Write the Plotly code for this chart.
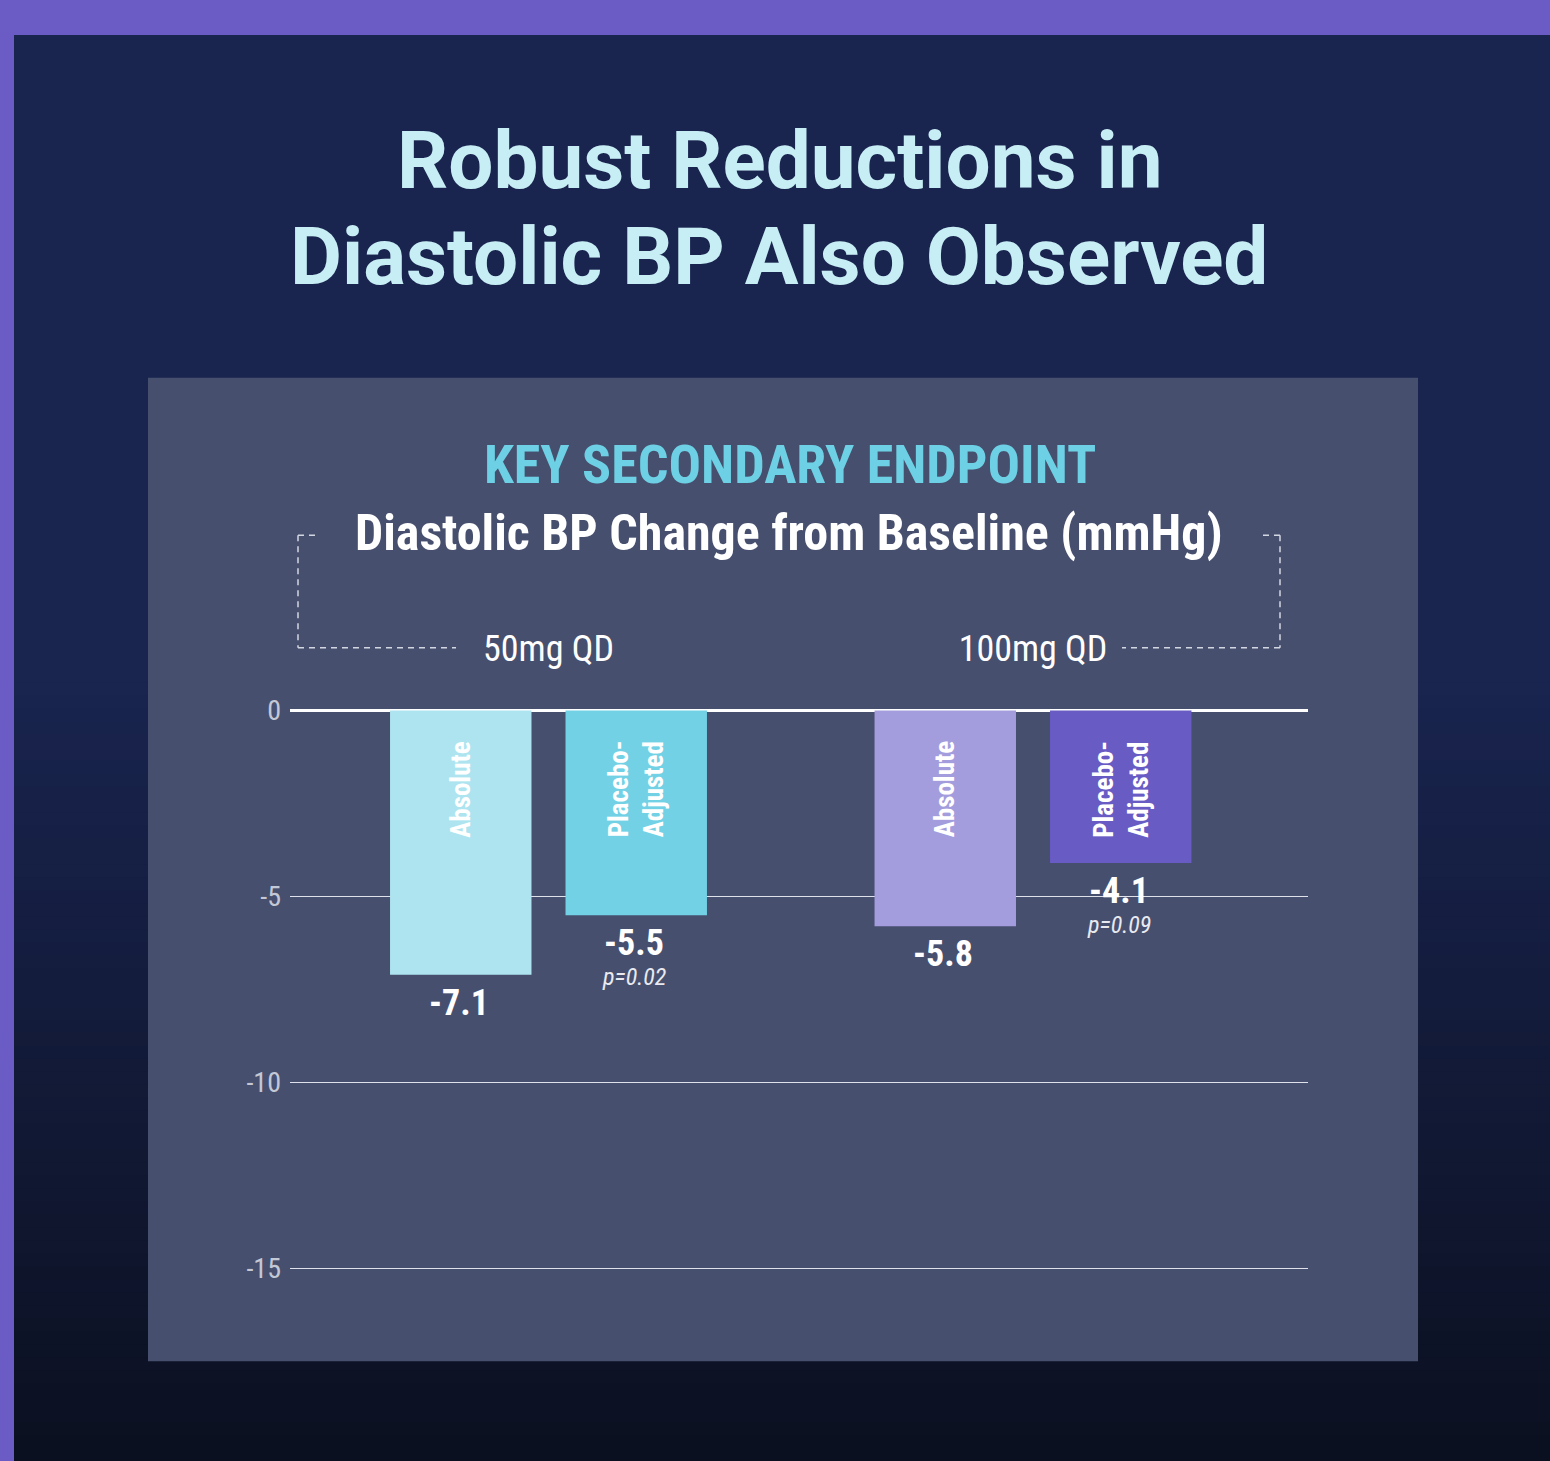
import plotly.graph_objects as go

# ---------------- data ----------------
groups = ["50mg QD", "100mg QD"]
absolute = [-7.1, -5.8]
placebo_adjusted = [-5.5, -4.1]
p_values = ["p=0.02", "p=0.09"]
absolute_colors = ["#ade4f0", "#a39ddd"]
placebo_colors = ["#72d1e5", "#685bc4"]
y_ticks = [0, -5, -10, -15]
y_tick_labels = ["0", "-5", "-10", "-15"]

# ---------------- layout helpers ----------------
W, H = 1550, 1461
def px(x):
    return x / W
def py(y):
    return 1 - y / H

COND = "Roboto Condensed, Liberation Sans Narrow, DejaVu Sans Condensed, Roboto, sans-serif"
ROBOTO = "Roboto, sans-serif"

fig = go.Figure()

fig.add_trace(go.Bar(
    x=groups, y=absolute, name="Absolute",
    marker=dict(color=absolute_colors, line=dict(width=0)),
    offsetgroup="a", hoverinfo="skip",
))
fig.add_trace(go.Bar(
    x=groups, y=placebo_adjusted, name="Placebo-Adjusted",
    marker=dict(color=placebo_colors, line=dict(width=0)),
    offsetgroup="b", hoverinfo="skip",
))

shapes = []
# background gradient (lower part)
top_c = (25, 36, 79)
bot_c = (11, 16, 32)
y0g, y1g = 680, 1461
n = 60
for i in range(n):
    t = (i + 0.5) / n
    c = tuple(round(top_c[k] + (bot_c[k] - top_c[k]) * t) for k in range(3))
    ya = y0g + (y1g - y0g) * i / n
    yb = y0g + (y1g - y0g) * (i + 1) / n + 1
    shapes.append(dict(type="rect", xref="paper", yref="paper", layer="below",
                       x0=0, x1=1, y0=py(yb), y1=py(ya),
                       fillcolor="rgb(%d,%d,%d)" % c, line=dict(width=0)))
# purple border
shapes.append(dict(type="rect", xref="paper", yref="paper", layer="below",
                   x0=-0.01, x1=1.01, y0=py(30), y1=1.02, fillcolor="#6a5bc5", line=dict(width=0)))
shapes.append(dict(type="rect", xref="paper", yref="paper", layer="below",
                   x0=-0.01, x1=px(14), y0=-0.01, y1=1.02, fillcolor="#6a5bc5", line=dict(width=0)))
# panel
shapes.append(dict(type="rect", xref="paper", yref="paper", layer="below",
                   x0=px(148), x1=px(1418), y0=py(1361), y1=py(374),
                   fillcolor="#474f6e", line=dict(width=0)))
# dashed brackets
dash_line = dict(color="#d3d7e2", width=1.5, dash="6px,5px")
def seg(xa, ya, xb, yb):
    shapes.append(dict(type="line", xref="paper", yref="paper", layer="above",
                       x0=px(xa), y0=py(ya), x1=px(xb), y1=py(yb), line=dash_line))
seg(298, 532, 316, 532)
seg(298, 532, 298, 645)
seg(298, 645, 456, 645)
seg(1263, 532, 1280, 532)
seg(1280, 532, 1280, 645)
seg(1280, 645, 1122, 645)

annotations = []
# titles
annotations.append(dict(text="<b>Robust Reductions in</b>", x=px(779), y=py(157),
                        xref="paper", yref="paper", showarrow=False, yanchor="middle",
                        font=dict(family=ROBOTO, size=80, color="#c8eef5")))
annotations.append(dict(text="<b>Diastolic BP Also Observed</b>", x=px(779), y=py(253),
                        xref="paper", yref="paper", showarrow=False, yanchor="middle",
                        font=dict(family=ROBOTO, size=80, color="#c8eef5")))
annotations.append(dict(text="<b>KEY SECONDARY ENDPOINT</b>", x=px(790), y=py(461),
                        xref="paper", yref="paper", showarrow=False, yanchor="middle",
                        font=dict(family=COND, size=54, color="#6dd0e4")))
annotations.append(dict(text="<b>Diastolic BP Change from Baseline (mmHg)</b>", x=px(789), y=py(530),
                        xref="paper", yref="paper", showarrow=False, yanchor="middle",
                        font=dict(family=COND, size=50, color="#ffffff")))

OFFS = 87.75
bar_names = ["Absolute", "Placebo-<br>Adjusted"]
for gi, g in enumerate(groups):
    for si, (vals, lab) in enumerate([(absolute, bar_names[0]), (placebo_adjusted, bar_names[1])]):
        xs = -OFFS if si == 0 else OFFS
        annotations.append(dict(text="<b>%s</b>" % lab, x=g, y=0, xref="x", yref="y",
                                xshift=xs, yshift=-28, yanchor="top", xanchor="center",
                                textangle=-90, align="left", showarrow=False,
                                font=dict(family=COND, size=27, color="#ffffff")))
        annotations.append(dict(text="<b>%s</b>" % ("%.1f" % vals[gi]),
                                x=g, y=vals[gi], xref="x", yref="y",
                                xshift=xs - 2, yshift=-5, yanchor="top", xanchor="center",
                                showarrow=False,
                                font=dict(family=COND, size=36, color="#ffffff")))
        if si == 1:
            annotations.append(dict(text="<i>%s</i>" % p_values[gi], x=g, y=vals[gi],
                                    xref="x", yref="y", xshift=xs - 2, yshift=-46,
                                    yanchor="top", xanchor="center", showarrow=False,
                                    font=dict(family=COND, size=24, color="#e8eaf0")))

u = (1268 - 708) / 15.0
y_lo, y_hi = -15.5, 0.3
dom_bot = 1268 + 0.5 * u
dom_top = 708 - 0.3 * u
x_per = 1033 - 548.5

fig.update_layout(
    width=W, height=H,
    margin=dict(l=0, r=0, t=0, b=0),
    paper_bgcolor="#19244f",
    plot_bgcolor="rgba(0,0,0,0)",
    showlegend=False,
    barmode="group",
    bargap=0.2756,
    bargroupgap=0.194,
    shapes=shapes,
    annotations=annotations,
    xaxis=dict(
        domain=[px(290), px(1308)],
        range=[(290 - 548.5) / x_per, (1308 - 548.5) / x_per],
        side="top", showgrid=False, zeroline=False, showline=False, ticks="",
        tickfont=dict(family=COND, size=36, color="#ffffff"),
        ticklabelstandoff=30,
        fixedrange=True,
    ),
    yaxis=dict(
        domain=[py(dom_bot), py(dom_top)],
        range=[y_lo, y_hi],
        tickvals=y_ticks, ticktext=y_tick_labels,
        showgrid=True, gridcolor="#dfe2ea", gridwidth=1.3,
        zeroline=True, zerolinecolor="#ffffff", zerolinewidth=2.5,
        showline=False, ticks="",
        tickfont=dict(family=COND, size=28, color="#c3c8d6"),
        ticklabelstandoff=8,
        fixedrange=True,
    ),
)

fig.write_html("out.html")
